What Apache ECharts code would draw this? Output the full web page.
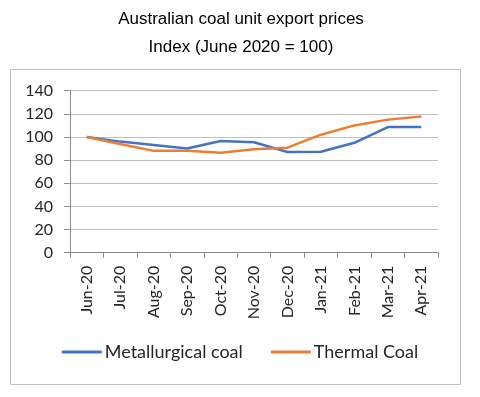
<!DOCTYPE html>
<html>
<head>
<meta charset="utf-8">
<script src="https://cdn.jsdelivr.net/npm/echarts@6/dist/echarts.min.js"></script>
<style>
  html, body { margin: 0; padding: 0; background: #fff; }
  #chart { width: 480px; height: 397px; }
</style>
</head>
<body>
<div id="chart"></div>
<script>
// months on the x axis
var months = ['Jun-20', 'Jul-20', 'Aug-20', 'Sep-20', 'Oct-20', 'Nov-20',
              'Dec-20', 'Jan-21', 'Feb-21', 'Mar-21', 'Apr-21'];
// index values, June 2020 = 100
var metallurgical = [100, 96, 93, 90, 96.5, 95.5, 87, 87.2, 95, 108.6, 108.6];
var thermal = [100, 94, 88, 88, 86.4, 89.3, 90.8, 102, 110, 115, 117.8];

var chart = echarts.init(document.getElementById('chart'));
var axisFont = 'Lato, "Open Sans", sans-serif';

var option = {
    animation: false,
    title: [{
        text: 'Australian coal unit export prices',
        left: 236, top: 6, textAlign: 'center',
        textStyle: {fontFamily: 'Liberation Sans, Arial', fontSize: 17, fontWeight: 'normal', color: '#000'}
    }, {
        text: 'Index (June 2020 = 100)',
        left: 236, top: 34, textAlign: 'center',
        textStyle: {fontFamily: 'Liberation Sans, Arial', fontSize: 17, fontWeight: 'normal', color: '#000'}
    }],
    graphic: [{
        type: 'rect',
        shape: {x: 10.5, y: 69.5, width: 450, height: 315},
        style: {fill: 'none', stroke: '#c0c0c0', lineWidth: 1},
        silent: true
    }],
    legend: {
        bottom: 31,
        left: 'center',
        icon: 'rect',
        itemWidth: 40,
        itemHeight: 3,
        itemGap: 28,
        itemStyle: {borderWidth: 0},
        textStyle: {fontFamily: axisFont, fontSize: 18, color: '#262626', padding: [0, 0, 0, -2]},
        data: ['Metallurgical coal', 'Thermal Coal']
    },
    grid: {left: 70, right: 42, top: 90.7, bottom: 144.3},
    xAxis: {
        type: 'category',
        data: months,
        boundaryGap: true,
        axisLine: {lineStyle: {color: '#8c8c8c'}},
        axisTick: {show: true, length: 5, lineStyle: {color: '#8c8c8c'}},
        axisLabel: {rotate: 90, margin: 13, interval: 0, fontFamily: axisFont, fontSize: 16, color: '#262626'}
    },
    yAxis: {
        type: 'value',
        min: 0, max: 140, interval: 20,
        axisLine: {show: true, lineStyle: {color: '#8c8c8c'}},
        axisTick: {show: true, length: 6, lineStyle: {color: '#8c8c8c'}},
        splitLine: {lineStyle: {color: '#bfbfbf'}},
        axisLabel: {margin: 17, fontFamily: axisFont, fontSize: 16, color: '#262626'}
    },
    series: [{
        name: 'Metallurgical coal',
        type: 'line',
        data: metallurgical,
        showSymbol: false,
        symbol: 'none',
        lineStyle: {color: '#4472C4', width: 2.5},
        itemStyle: {color: '#4472C4'}
    }, {
        name: 'Thermal Coal',
        type: 'line',
        data: thermal,
        showSymbol: false,
        symbol: 'none',
        lineStyle: {color: '#ED7D31', width: 2.5},
        itemStyle: {color: '#ED7D31'}
    }]
};
chart.setOption(option);
</script>
</body>
</html>
